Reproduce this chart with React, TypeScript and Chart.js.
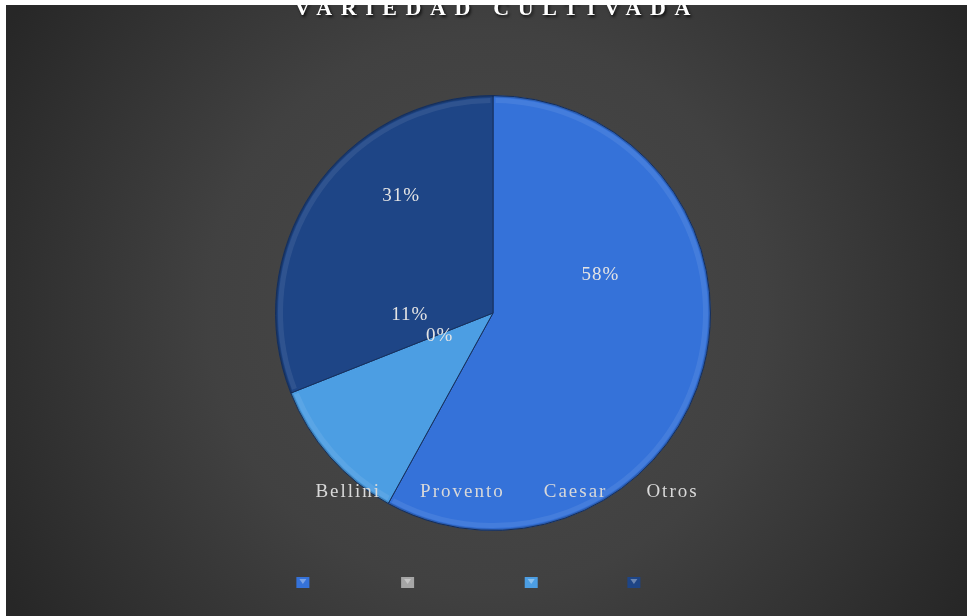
import React, { useEffect, useRef } from "react";
import { Chart, registerables } from "chart.js";
Chart.register(...registerables);

const TITLE = "VARIEDAD CULTIVADA";
const categories = ["Bellini", "Provento", "Caesar", "Otros"];
const values = [58, 0, 11, 31];
const sliceColors = ["#3572d9", "#a6a6a6", "#4c9ee3", "#1e4586"];

const W = 961;
const H = 611;

const bgPlugin = {
  id: "bg",
  beforeDraw(chart: any) {
    const { ctx, width, height } = chart;
    ctx.save();
    const g = ctx.createRadialGradient(width / 2, height * 0.5, 0, width / 2, height * 0.5, width * 0.58);
    g.addColorStop(0, "#4a4a4a");
    g.addColorStop(0.5, "#414141");
    g.addColorStop(1, "#272727");
    ctx.fillStyle = g;
    ctx.fillRect(0, 0, width, height);
    ctx.restore();
  },
};

const titlePlugin = {
  id: "titleTxt",
  afterDraw(chart: any) {
    const { ctx, width } = chart;
    ctx.save();
    ctx.font = "bold 22px 'Liberation Serif', serif";
    ctx.letterSpacing = "0px";
    const natural = ctx.measureText(TITLE).width;
    const target = 396;
    const sp = (target - natural) / (TITLE.length - 1);
    ctx.letterSpacing = sp + "px";
    ctx.textAlign = "left";
    ctx.textBaseline = "alphabetic";
    ctx.shadowColor = "rgba(0,0,0,0.75)";
    ctx.shadowOffsetX = 1.5;
    ctx.shadowOffsetY = 2;
    ctx.shadowBlur = 3;
    ctx.fillStyle = "#ffffff";
    ctx.fillText(TITLE, width / 2 + 6 - target / 2, 10);
    ctx.restore();
  },
};

const rimPlugin = {
  id: "rim",
  afterDatasetsDraw(chart: any) {
    const { ctx } = chart;
    const meta = chart.getDatasetMeta(0);
    ctx.save();
    meta.data.forEach((arc: any) => {
      const { x, y, startAngle, endAngle, outerRadius } = arc.getProps(["x", "y", "startAngle", "endAngle", "outerRadius"], true);
      if (endAngle - startAngle < 0.001) return;
      ctx.beginPath();
      ctx.arc(x, y, outerRadius - 5, startAngle + 0.012, endAngle - 0.012);
      ctx.lineWidth = 5;
      ctx.strokeStyle = "rgba(255,255,255,0.08)";
      ctx.stroke();
      ctx.beginPath();
      ctx.arc(x, y, outerRadius - 1, startAngle, endAngle);
      ctx.lineWidth = 1.5;
      ctx.strokeStyle = "rgba(0,0,0,0.18)";
      ctx.stroke();
    });
    ctx.restore();
  },
};

const labelPlugin = {
  id: "pctLabels",
  afterDatasetsDraw(chart: any) {
    const { ctx } = chart;
    const meta = chart.getDatasetMeta(0);
    const data = chart.data.datasets[0].data as number[];
    const total = data.reduce((a, b) => a + b, 0);
    ctx.save();
    ctx.font = "19px 'Liberation Serif', serif";
    ctx.letterSpacing = "1px";
    ctx.fillStyle = "#e4e4e4";
    ctx.textAlign = "center";
    ctx.textBaseline = "middle";
    meta.data.forEach((arc: any, i: number) => {
      const { x, y, startAngle, endAngle, outerRadius } = arc.getProps(["x", "y", "startAngle", "endAngle", "outerRadius"], true);
      const mid = (startAngle + endAngle) / 2;
      const lx = x + 0.51 * outerRadius * Math.cos(mid);
      const ly = y + 0.447 * outerRadius * Math.sin(mid) - 0.288 * outerRadius;
      const pct = Math.round((data[i] / total) * 100) + "%";
      ctx.fillText(pct, lx, ly);
    });
    ctx.restore();
  },
};

const legendPlugin = {
  id: "legendCustom",
  afterDraw(chart: any) {
    const { ctx, width } = chart;
    const labels = chart.data.labels as string[];
    const cols = chart.data.datasets[0].backgroundColor as string[];
    ctx.save();
    ctx.font = "19px 'Liberation Serif', serif";
    ctx.letterSpacing = "2px";
    const boxW = 13, boxH = 11, gapBox = 6, gapItem = 22;
    const widths = labels.map((l) => ctx.measureText(l).width - 2);
    const total = widths.reduce((a, w) => a + boxW + gapBox + w, 0) + gapItem * (labels.length - 1);
    let x = width / 2 + 10 - total / 2;
    const textY = 492;
    const boxY = 572;
    labels.forEach((l, i) => {
      ctx.fillStyle = cols[i];
      ctx.fillRect(x, boxY, boxW, boxH);
      ctx.fillStyle = "rgba(255,255,255,0.35)";
      ctx.beginPath();
      ctx.moveTo(x + 3, boxY + 2);
      ctx.lineTo(x + boxW - 3, boxY + 2);
      ctx.lineTo(x + boxW / 2, boxY + 7);
      ctx.closePath();
      ctx.fill();
      ctx.fillStyle = "#d9d9d9";
      ctx.textAlign = "left";
      ctx.textBaseline = "alphabetic";
      ctx.fillText(l, x + boxW + gapBox, textY);
      x += boxW + gapBox + widths[i] + gapItem;
    });
    ctx.restore();
  },
};

export default function App() {
  const ref = useRef<HTMLCanvasElement | null>(null);
  useEffect(() => {
    if (!ref.current) return;
    const chart = new Chart(ref.current, {
      type: "pie",
      data: {
        labels: categories,
        datasets: [
          {
            data: values,
            backgroundColor: sliceColors,
            borderColor: "#17315f",
            borderWidth: 1,
          },
        ],
      },
      options: {
        responsive: false,
        animation: false,
        layout: { padding: { top: 90, bottom: 85, left: 269, right: 256 } },
        plugins: {
          legend: { display: false },
          title: { display: false },
          tooltip: { enabled: false },
        },
      },
      plugins: [bgPlugin, rimPlugin, labelPlugin, legendPlugin, titlePlugin],
    });
    return () => chart.destroy();
  }, []);
  return (
    <div style={{ position: "fixed", left: 0, top: 0, width: 967, height: 616, background: "#ffffff", overflow: "hidden" }}>
      <canvas ref={ref} width={W} height={H} style={{ position: "absolute", left: 6, top: 5, width: W, height: H }} />
    </div>
  );
}
